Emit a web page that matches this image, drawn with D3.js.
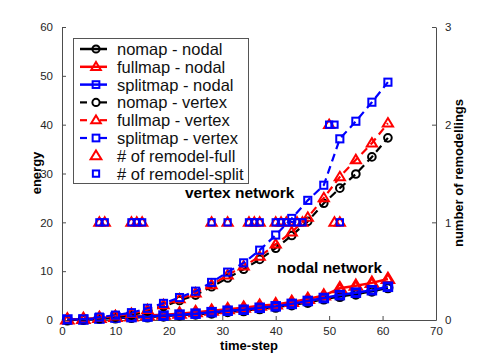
<!DOCTYPE html>
<html>
<head>
<meta charset="utf-8">
<script src="https://cdn.jsdelivr.net/npm/d3@7"></script>
<style>
body { margin: 0; background: #fff; }
text { font-family: "Liberation Sans", Arial, sans-serif; }
</style>
</head>
<body>
<svg width="482" height="361"></svg>
<script>
// time steps shared by every energy series
var steps = [1,4,7,10,13,16,19,22,25,28,31,34,37,40,43,46,49,52,55,58,61];

var nomapNodal    = [0,0.1,0.3,0.4,0.5,0.6,0.8,1.0,1.2,1.4,1.7,1.9,2.3,2.6,3.1,3.6,4.3,4.8,5.3,5.9,6.6];
var fullmapNodal  = [0.1,0.2,0.4,0.6,0.7,0.9,1.1,1.3,1.6,1.9,2.2,2.5,2.9,3.2,3.7,4.3,5.0,6.5,7.0,7.6,8.4];
var splitmapNodal = [0.1,0.1,0.3,0.5,0.6,0.7,0.9,1.1,1.3,1.6,1.9,2.1,2.5,2.8,3.3,3.9,4.5,5.1,5.6,6.1,6.8];

var nomapVertex    = [0,0.1,0.3,0.6,1.0,1.8,2.8,4.0,5.1,6.8,8.6,10.4,12.4,14.7,17.3,20.2,23.9,27.0,29.9,33.4,37.3];
var fullmapVertex  = [0.1,0.2,0.5,0.8,1.3,2.1,3.1,4.3,5.5,7.2,9.2,11.0,13.0,15.5,18.0,21.0,25.0,29.3,32.8,36.2,40.3];
var splitmapVertex = [0.1,0.2,0.6,1.0,1.5,2.4,3.4,4.6,5.9,7.7,9.8,11.7,14.3,17.4,20.8,24.5,27.6,37.1,40.7,44.6,48.7];

// remodelling counts (right axis)
var remodelFullSteps  = [7,8,13,14,15,28,31,35,36,37,40,41,42,44,45,50,51,52];
var remodelFullCount  = [1,1,1,1,1,1,1,1,1,1,1,1,1,1,1,2,1,1];
var remodelSplitSteps = [7,8,13,14,15,28,31,35,36,37,40,41,42,43,44,45,50,51,52];
var remodelSplitCount = [1,1,1,1,1,1,1,1,1,1,1,1,1,1,1,1,2,2,1];

var xTicks = [0,10,20,30,40,50,60,70];
var yTicks = [0,10,20,30,40,50,60];
var y2Ticks = [0,1,2,3];

var legendLabels = ["nomap - nodal","fullmap - nodal","splitmap - nodal",
  "nomap - vertex","fullmap - vertex","splitmap - vertex",
  "# of remodel-full","# of remodel-split"];

var svg = d3.select("svg");
var axisColor = "#4d4d4d", tickText = "#262626";

var x = d3.scaleLinear().domain([0,70]).range([62,436]);
var y = d3.scaleLinear().domain([0,60]).range([320,27]);
var y2 = d3.scaleLinear().domain([0,3]).range([320,27]);

function styleAxis(g) {
  g.select(".domain").attr("stroke", axisColor);
  g.selectAll(".tick line").attr("stroke", axisColor);
  g.selectAll(".tick text").attr("fill", tickText).style("font-size","11.5px")
    .style("font-family", "Liberation Sans, Arial, sans-serif");
}

svg.append("g").attr("transform","translate(0,320)")
  .call(d3.axisBottom(x).tickValues(xTicks).tickSizeInner(-4).tickSizeOuter(0).tickPadding(7))
  .call(styleAxis);
svg.append("g").attr("transform","translate(62,0)")
  .call(d3.axisLeft(y).tickValues(yTicks).tickSizeInner(-4).tickSizeOuter(0).tickPadding(9))
  .call(styleAxis);
svg.append("g").attr("transform","translate(436,0)")
  .call(d3.axisRight(y2).tickValues(y2Ticks).tickFormat(d3.format("d")).tickSizeInner(-4).tickSizeOuter(0).tickPadding(9))
  .call(styleAxis);

// axis titles
svg.append("text").attr("x",249).attr("y",350).attr("text-anchor","middle")
  .style("font-size","13px").style("font-weight","bold").text("time-step");
svg.append("text").attr("transform","translate(41,173) rotate(-90)").attr("text-anchor","middle")
  .style("font-size","13px").style("font-weight","bold").text("energy");
svg.append("text").attr("transform","translate(463,173) rotate(-90)").attr("text-anchor","middle")
  .style("font-size","13px").style("font-weight","bold").text("number of remodellings");

// markers
function drawMarker(g, kind, cx, cy, color, sw, size) {
  if (kind == "circle") {
    g.append("circle").attr("cx",cx).attr("cy",cy).attr("r",size*0.45)
      .attr("fill","none").attr("stroke",color).attr("stroke-width",sw);
  } else if (kind == "triangle") {
    var s = size*0.6;
    g.append("path").attr("d","M"+cx+","+(cy-s)+"L"+(cx+s)+","+(cy+s*0.65)+"L"+(cx-s)+","+(cy+s*0.65)+"Z")
      .attr("fill","none").attr("stroke",color).attr("stroke-width",sw).attr("stroke-linejoin","miter");
  } else {
    var h = size*0.42;
    g.append("rect").attr("x",cx-h).attr("y",cy-h).attr("width",2*h).attr("height",2*h)
      .attr("fill","none").attr("stroke",color).attr("stroke-width",sw);
  }
}

var series = [
  {vals: nomapNodal, color:"black", marker:"circle", dash:null, lw:2.5},
  {vals: fullmapNodal, color:"#ff0000", marker:"triangle", dash:null, lw:2.5},
  {vals: splitmapNodal, color:"#0000ff", marker:"square", dash:null, lw:2.5},
  {vals: nomapVertex, color:"black", marker:"circle", dash:"8,5", lw:2.2},
  {vals: fullmapVertex, color:"#ff0000", marker:"triangle", dash:"8,5", lw:2.2},
  {vals: splitmapVertex, color:"#0000ff", marker:"square", dash:"8,5", lw:2.2}
];

var line = d3.line().x(function(d){ return x(d[0]); }).y(function(d){ return y(d[1]); });

series.forEach(function(s) {
  var pts = steps.map(function(t,i){ return [t, s.vals[i]]; });
  var g = svg.append("g");
  g.append("path").datum(pts).attr("d", line).attr("fill","none")
    .attr("stroke", s.color).attr("stroke-width", s.lw)
    .attr("stroke-dasharray", s.dash);
  pts.forEach(function(p) {
    drawMarker(g, s.marker, x(p[0]), y(p[1]), s.color, s.dash ? 2 : 3, s.dash ? 8.5 : 9);
  });
});

// remodelling markers
var gr = svg.append("g");
remodelFullSteps.forEach(function(t,i){
  drawMarker(gr, "triangle", x(t), y2(remodelFullCount[i]), "#ff0000", 2, 8.5);
});
remodelSplitSteps.forEach(function(t,i){
  drawMarker(gr, "square", x(t), y2(remodelSplitCount[i]), "#0000ff", 2, 7.5);
});

// annotations
svg.append("text").attr("x",185).attr("y",198).style("font-size","15.5px").style("font-weight","bold").text("vertex network");
svg.append("text").attr("x",277).attr("y",273).style("font-size","15.5px").style("font-weight","bold").text("nodal network");

// legend
var lg = svg.append("g");
lg.append("rect").attr("x",73.5).attr("y",38.5).attr("width",175).attr("height",145)
  .attr("fill","white").attr("stroke","#555").attr("stroke-width",1);
legendLabels.forEach(function(lab,i) {
  var cy = 49 + i*17.8;
  var col, mk, dash = null, lw = 2.5;
  if (i < 6) {
    var s = series[i];
    col = s.color; mk = s.marker; dash = s.dash; lw = s.lw;
    if (dash) {
      lg.append("line").attr("x1",80).attr("x2",87).attr("y1",cy).attr("y2",cy)
        .attr("stroke",col).attr("stroke-width",lw);
      lg.append("line").attr("x1",100).attr("x2",107).attr("y1",cy).attr("y2",cy)
        .attr("stroke",col).attr("stroke-width",lw);
    } else {
      lg.append("line").attr("x1",80).attr("x2",107).attr("y1",cy).attr("y2",cy)
        .attr("stroke",col).attr("stroke-width",lw);
    }
    drawMarker(lg, mk, 96, cy, col, 2, 8);
  } else if (i == 6) {
    drawMarker(lg, "triangle", 96, cy, "#ff0000", 2, 9);
  } else {
    drawMarker(lg, "square", 96, cy, "#0000ff", 2, 7.5);
  }
  lg.append("text").attr("x",117).attr("y",cy+6).style("font-size","16.5px").attr("fill","#111").text(lab);
});
</script>
</body>
</html>
